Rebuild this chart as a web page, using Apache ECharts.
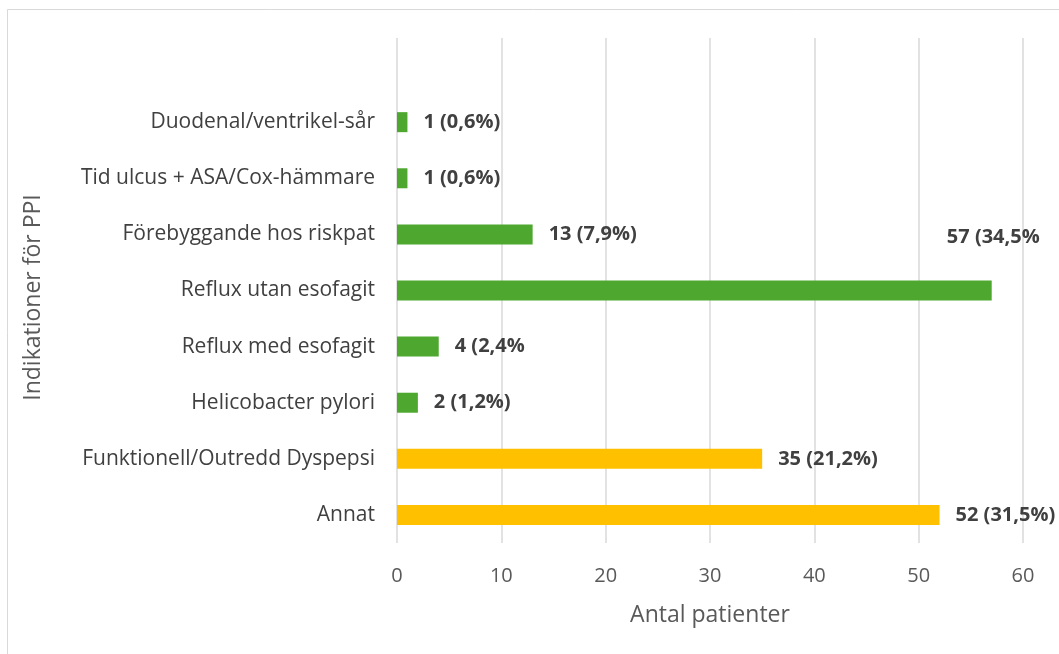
<!DOCTYPE html>
<html>
<head>
<meta charset="utf-8">
<script src="https://cdn.jsdelivr.net/npm/echarts@6/dist/echarts.min.js"></script>
<style>
html,body{margin:0;padding:0;background:#fff;}
#main{width:1059px;height:654px;}
</style>
</head>
<body>
<div id="main"></div>
<script>
// kategorier nerifrån och upp, tom rad överst
var categories = ['Annat', 'Funktionell/Outredd Dyspepsi', 'Helicobacter pylori', 'Reflux med esofagit',
    'Reflux utan esofagit', 'Förebyggande hos riskpat', 'Tid ulcus + ASA/Cox-hämmare', 'Duodenal/ventrikel-sår', ''];
var values = [52, 35, 2, 4, 57, 13, 1, 1, null];
var labels = ['52 (31,5%)', '35 (21,2%)', '2 (1,2%)', '4 (2,4%', '57 (34,5%', '13 (7,9%)', '1 (0,6%)', '1 (0,6%)', ''];
var groups = ['y', 'y', 'g', 'g', 'g', 'g', 'g', 'g', 'g'];
var xTicks = [0, 10, 20, 30, 40, 50, 60];

var colors = { g: '#4EA72E', y: '#FFC000' };
var font = '"Open Sans", "Noto Sans", sans-serif';

var myChart = echarts.init(document.getElementById('main'));

var seriesData = values.map(function (v, i) {
    var item = {
        value: v,
        itemStyle: { color: colors[groups[i]] }
    };
    if (v === 57) {
        // etiketten hamnar ovanför stapeln
        item.label = { position: 'insideBottomRight', offset: [64, -37] };
    }
    return item;
});

var option = {
    backgroundColor: '#fff',
    animation: false,
    graphic: [{
        type: 'rect',
        shape: { x: 7.5, y: 9.5, width: 1100, height: 700 },
        style: { fill: 'none', stroke: '#d9d9d9', lineWidth: 1 }
    }],
    grid: {
        left: 397,
        right: 36,
        top: 38,
        bottom: 111
    },
    xAxis: {
        type: 'value',
        min: xTicks[0],
        max: xTicks[xTicks.length - 1],
        interval: 10,
        name: 'Antal patienter',
        nameLocation: 'middle',
        nameGap: 61,
        nameTextStyle: { fontFamily: font, fontSize: 23, color: '#595959' },
        axisLine: { show: false },
        axisTick: { show: false },
        axisLabel: { fontFamily: font, fontSize: 20, color: '#595959', margin: 23 },
        splitLine: { show: true, lineStyle: { color: '#d9d9d9', width: 1.5 } }
    },
    yAxis: {
        type: 'category',
        data: categories,
        name: 'Indikationer för PPI',
        nameLocation: 'middle',
        nameGap: 352,
        nameTextStyle: { fontFamily: font, fontSize: 23, color: '#595959', padding: [0, 14, 0, 0] },
        axisLine: { show: false },
        axisTick: { show: false },
        axisLabel: { fontFamily: font, fontSize: 21, color: '#404040', margin: 22 }
    },
    series: [{
        type: 'bar',
        data: seriesData,
        barWidth: 20,
        label: {
            show: true,
            position: 'right',
            distance: 16,
            fontFamily: font,
            fontSize: 20,
            fontWeight: 'bold',
            color: '#404040',
            formatter: function (p) { return labels[p.dataIndex]; }
        }
    }]
};

myChart.setOption(option);
</script>
</body>
</html>
